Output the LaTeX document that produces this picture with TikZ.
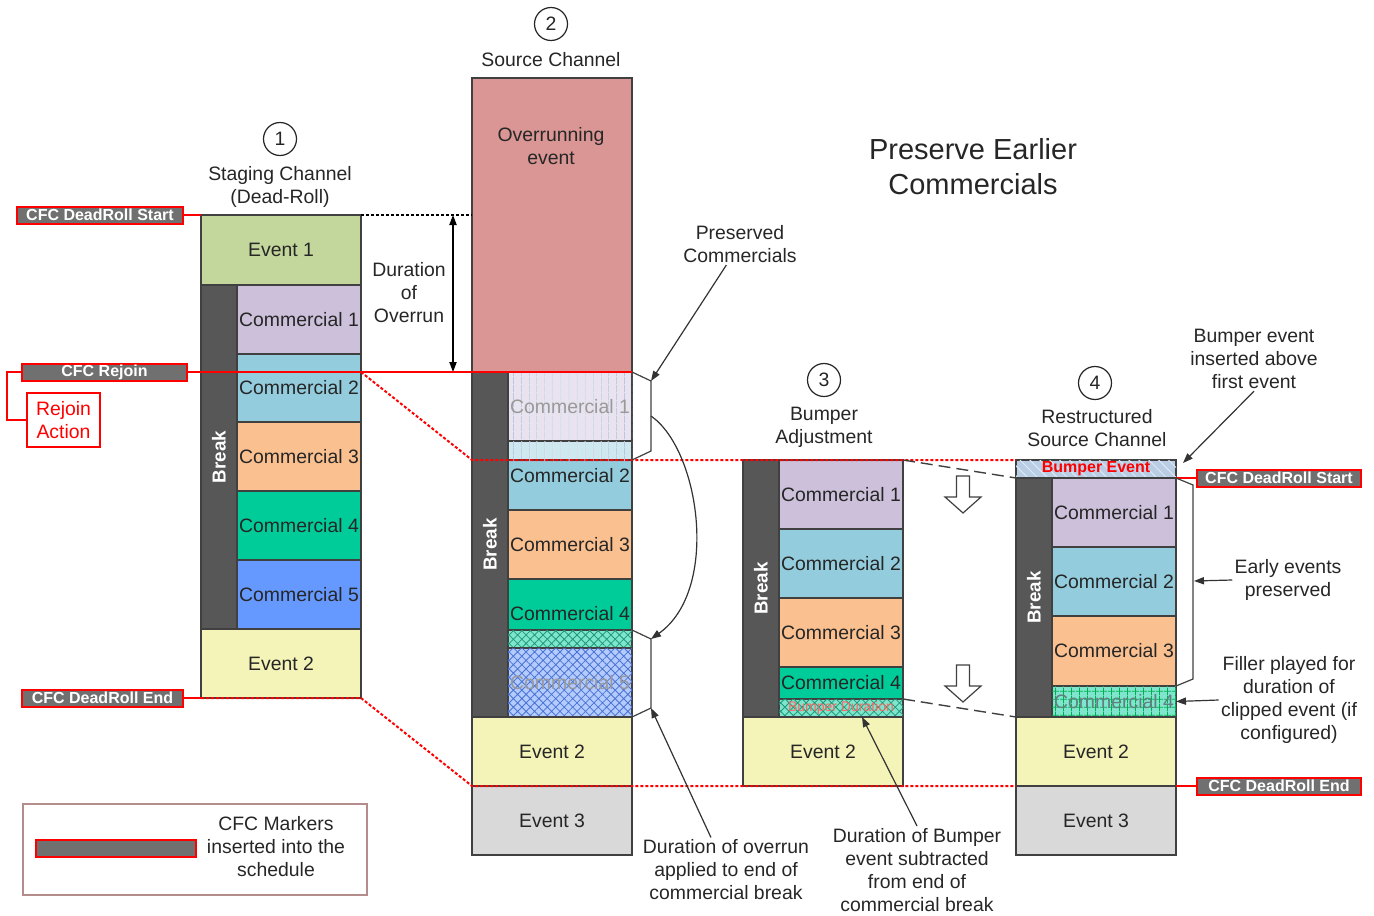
\documentclass[tikz,border=0pt]{standalone}
\usepackage{fontspec}
\setmainfont{Liberation Sans}
\usepackage{tikz}
\usetikzlibrary{positioning, arrows.meta, patterns.meta}

\definecolor{ink}{HTML}{262626}
\definecolor{edge}{HTML}{404040}
\definecolor{evgreen}{HTML}{C3D69B}
\definecolor{evyellow}{HTML}{F4F4B8}
\definecolor{evgrey}{HTML}{D9D9D9}
\definecolor{overrun}{HTML}{D99694}
\definecolor{com1}{HTML}{CCC0DA}
\definecolor{com2}{HTML}{93CDDD}
\definecolor{com3}{HTML}{FAC090}
\definecolor{com4}{HTML}{00CC99}
\definecolor{com5}{HTML}{6699FF}
\definecolor{brkgray}{HTML}{575757}
\definecolor{cfcgray}{HTML}{707070}
\definecolor{legendbr}{HTML}{B48C8C}

\tikzset{
    blk/.style={rectangle, draw=edge, line width=0.6pt, inner sep=0pt, outer sep=0pt, text=ink},
    evbox/.style={blk, minimum width=80pt},
    combox/.style={blk, minimum width=62pt},
    brkbar/.style={blk, fill=brkgray, minimum width=18pt},
    brktxt/.style={rotate=90, text=white, font=\fontsize{9.4}{11}\selectfont\bfseries},
    hpx/.style={minimum height=#1*0.5pt},
    ghostc1/.style={fill=HTML-ghost1, text=gray!80, postaction={pattern={Lines[angle=90,distance=4pt,line width=0.4pt]}, pattern color=ghostline}},
    ghostc2/.style={fill=HTML-ghost2, postaction={pattern={Lines[angle=90,distance=4pt,line width=0.4pt]}, pattern color=ghostline}},
    xteal/.style={fill=tealpale, postaction={pattern={Hatch[angle=45,distance=3pt,line width=0.4pt]}, pattern color=tealline}},
    xblue/.style={fill=bluepale, text=gray!80, postaction={pattern={Hatch[angle=45,distance=3pt,line width=0.4pt]}, pattern color=blueline}},
    gridgreen/.style={fill=tealpale, text=gray!75!teal, postaction={pattern={Hatch[angle=0,distance=4pt,line width=0.4pt]}, pattern color=gridline}},
    bumpev/.style={fill=bumpfill, text=red, font=\fontsize{8}{9}\selectfont\bfseries, postaction={pattern={Lines[angle=-45,distance=3.5pt,line width=0.5pt]}, pattern color=white!55!bumpfill}},
    cfc/.style={rectangle, draw=red, line width=1pt, fill=cfcgray, text=white, inner sep=0pt, minimum height=8.5pt, font=\fontsize{8}{9}\selectfont\bfseries},
    num/.style={circle, draw=ink, line width=0.6pt, minimum size=16.5pt, inner sep=0pt, text=ink},
    hdr/.style={align=center, text=ink, inner sep=1pt},
    redline/.style={draw=red, line width=1pt},
    reddot/.style={draw=red, line width=1pt, dash pattern=on 1.5pt off 1pt},
    linkdash/.style={draw=edge, line width=0.7pt, dash pattern=on 6pt off 3pt},
    brace/.style={draw=edge, line width=0.6pt},
    ptr/.style={draw=black!80, line width=0.6pt, ->},
    downblock/.pic={\draw[draw=edge, fill=white, line width=0.6pt] (-6.5,0) -- (6.5,0) -- (6.5,21) -- (18,21) -- (0,37) -- (-18,21) -- (-6.5,21) -- cycle;},
}
\colorlet{HTML-ghost1}{com1!45!white}
\colorlet{HTML-ghost2}{com2!45!white}
\definecolor{ghostline}{HTML}{B3BFDD}
\definecolor{tealpale}{HTML}{7FE5CC}
\definecolor{tealline}{HTML}{1C9A7A}
\definecolor{bluepale}{HTML}{B3CBFF}
\definecolor{blueline}{HTML}{4A72D0}
\definecolor{gridline}{HTML}{00B050}
\definecolor{bumpfill}{HTML}{B9CDE5}

\begin{document}
\begin{tikzpicture}[x=0.5pt, y=-0.5pt, font=\fontsize{9.7}{11.5}\selectfont, >={Triangle[length=5pt,width=3.6pt]}]
    \useasboundingbox (0,0) rectangle (1374,915);

    \node [hdr, font=\fontsize{14.5}{17.5}\selectfont] (title) at (973,167) {Preserve Earlier\\Commercials};

    % staging channel
    \node [num] (n1) at (280,139) {1};
    \node [hdr] (h1) at (280,187) {Staging Channel\\(Dead-Roll)};
    \node [evbox, fill=evgreen, hpx=70, anchor=north west] (s-e1) at (201,215) {Event 1};
    \node [brkbar, hpx=344, anchor=north west] (s-brk) at (s-e1.south west) {};
    \node [brktxt] (s-brkt) at (s-brk) {Break};
    \node [combox, fill=com1, hpx=69, anchor=north west] (s-c1) at (s-brk.north east) {Commercial 1};
    \node [combox, fill=com2, hpx=68, below=0pt of s-c1] (s-c2) {Commercial 2};
    \node [combox, fill=com3, hpx=69, below=0pt of s-c2] (s-c3) {Commercial 3};
    \node [combox, fill=com4, hpx=69, below=0pt of s-c3] (s-c4) {Commercial 4};
    \node [combox, fill=com5, hpx=69, below=0pt of s-c4] (s-c5) {Commercial 5};
    \node [evbox, fill=evyellow, hpx=69, anchor=north west] (s-e2) at (s-brk.south west) {Event 2};

    % source channel
    \node [num] (n2) at (551,24) {2};
    \node [hdr] (h2) at (551,60) {Source Channel};
    \node [evbox, fill=overrun, hpx=294, anchor=north west] (o-ov) at (472,78) {};
    \node [hdr] (o-ovt) at (551,146) {Overrunning\\event};
    \node [brkbar, hpx=345, anchor=north west] (o-brk) at (o-ov.south west) {};
    \node [brktxt] (o-brkt) at (o-brk) {Break};
    \node [combox, ghostc1, hpx=69, anchor=north west] (o-c1) at (o-brk.north east) {Commercial 1};
    \node [combox, fill=com2, hpx=69, below=0pt of o-c1] (o-c2) {Commercial 2};
    \node [combox, ghostc2, hpx=19, anchor=north] (o-g2) at (o-c2.north) {};
    \node [combox, fill=com3, hpx=69, below=0pt of o-c2] (o-c3) {Commercial 3};
    \node [combox, fill=com4, hpx=69, below=0pt of o-c3] (o-c4) {Commercial 4};
    \node [combox, xteal, hpx=18, anchor=south] (o-x4) at (o-c4.south) {};
    \node [combox, xblue, hpx=69, below=0pt of o-c4] (o-c5) {Commercial 5};
    \node [evbox, fill=evyellow, hpx=69, anchor=north west] (o-e2) at (o-brk.south west) {Event 2};
    \node [evbox, fill=evgrey, hpx=69, below=0pt of o-e2] (o-e3) {Event 3};

    % bumper adjustment
    \node [num] (n3) at (824,380) {3};
    \node [hdr] (h3) at (824,427) {Bumper\\Adjustment};
    \node [brkbar, hpx=257, anchor=north west] (b-brk) at (743,460) {};
    \node [brktxt] (b-brkt) at (b-brk) {Break};
    \node [combox, fill=com1, hpx=69, anchor=north west] (b-c1) at (b-brk.north east) {Commercial 1};
    \node [combox, fill=com2, hpx=69, below=0pt of b-c1] (b-c2) {Commercial 2};
    \node [combox, fill=com3, hpx=69, below=0pt of b-c2] (b-c3) {Commercial 3};
    \node [combox, fill=com4, hpx=32, below=0pt of b-c3] (b-c4) {Commercial 4};
    \node [combox, xteal, hpx=18, below=0pt of b-c4, text=red!60, font=\fontsize{7}{8}\selectfont] (b-bd) {Bumper Duration};
    \node [evbox, fill=evyellow, hpx=69, anchor=north west] (b-e2) at (b-brk.south west) {Event 2};
    \pic at (963,476) {downblock};
    \pic at (963,665) {downblock};

    % restructured source channel
    \node [num] (n4) at (1095,383) {4};
    \node [hdr] (h4) at (1097,428) {Restructured\\Source Channel};
    \node [evbox, bumpev, hpx=18, anchor=north west] (r-bmp) at (1016,460) {Bumper Event};
    \node [brkbar, hpx=239, anchor=north west] (r-brk) at (r-bmp.south west) {};
    \node [brktxt] (r-brkt) at (r-brk) {Break};
    \node [combox, fill=com1, hpx=69, anchor=north west] (r-c1) at (r-brk.north east) {Commercial 1};
    \node [combox, fill=com2, hpx=69, below=0pt of r-c1] (r-c2) {Commercial 2};
    \node [combox, fill=com3, hpx=70, below=0pt of r-c2] (r-c3) {Commercial 3};
    \node [combox, gridgreen, hpx=31, below=0pt of r-c3] (r-c4) {Commercial 4};
    \node [evbox, fill=evyellow, hpx=69, anchor=north west] (r-e2) at (r-brk.south west) {Event 2};
    \node [evbox, fill=evgrey, hpx=69, below=0pt of r-e2] (r-e3) {Event 3};

    % markers
    \node [cfc, minimum width=83pt] (m-ds) at (100,215) {CFC DeadRoll Start};
    \node [cfc, minimum width=82.5pt] (m-rj) at (104.5,372) {CFC Rejoin};
    \node [cfc, minimum width=80.5pt] (m-de) at (102.5,698) {CFC DeadRoll End};
    \node [cfc, minimum width=82pt] (m-ds2) at (1279,478) {CFC DeadRoll Start};
    \node [cfc, minimum width=82pt] (m-de2) at (1279,786) {CFC DeadRoll End};
    \node [rectangle, draw=red, line width=0.8pt, text=red, align=center, inner sep=0pt, minimum width=36.5pt, minimum height=27pt] (rja) at (63.5,420) {Rejoin\\Action};

    % legend
    \node [draw=legendbr, line width=0.8pt, minimum width=172pt, minimum height=45.5pt, anchor=north west] (leg) at (22,803) {};
    \node [cfc, minimum width=80pt] (leg-m) at (116,848.5) {};
    \node [hdr] (leg-t) at (276,847) {CFC Markers\\inserted into the\\schedule};

    % notes
    \node [hdr] (dur) at (409,293) {Duration\\of\\Overrun};
    \node [hdr] (pres) at (740,244) {Preserved\\Commercials};
    \node [hdr] (dover) at (726,870) {Duration of overrun\\applied to end of\\commercial break};
    \node [hdr] (dbump) at (917,870) {Duration of Bumper\\event subtracted\\from end of\\commercial break};
    \node [hdr] (bins) at (1254,359) {Bumper event\\inserted above\\first event};
    \node [hdr] (early) at (1288,580) {Early events\\preserved};
    \node [hdr] (filler) at (1289,700) {Filler played for\\duration of\\clipped event (if\\configured)};

    \coordinate (d-top) at (453,215);
    \coordinate (d-bot) at (453,372);
    \coordinate (o-b1a) at (651,381);
    \coordinate (o-bm) at (651,416);
    \coordinate (o-b1b) at (651,451);
    \coordinate (o-b2a) at (651,639);
    \coordinate (o-b2b) at (651,708);
    \coordinate (r-b1) at (1193,485);
    \coordinate (r-bm) at (1194,581);
    \coordinate (r-b2) at (1193,679);
    \coordinate (r-bt) at (1183,463);
    \coordinate (b-tip) at (862,717);

    \draw [redline] (m-ds) -- (s-e1.north west);
    \draw [draw=black, line width=0.8pt, dash pattern=on 1.5pt off 1pt] (s-e1.north east) -- (s-e1.north east -| o-ov.west);
    \draw [<->, line width=0.7pt] (d-top) -- (d-bot);
    \draw [redline] (m-rj) -- (o-c1.north east);
    \draw [draw=red, line width=0.7pt] (m-rj.west) -- ++(-14,0) |- (rja.west);
    \draw [reddot] (s-c1.east |- m-rj) -- (o-brk.west |- b-c1.north) -- (r-bmp.north west);
    \draw [redline] (m-de) -- (s-e2.south west);
    \draw [reddot] (s-e2.south west) -- (s-e2.south east) -- (o-e2.south west) -- (r-e2.south west);
    \draw [redline] (r-e2.south east) -- (m-de2);
    \draw [redline] (r-c1.north east) -- (m-ds2);

    \draw [linkdash] (b-c1.north east) -- (r-brk.north west);
    \draw [linkdash] (b-c4.south east) -- (r-brk.south west);

    \draw [brace] (o-c1.north east) -- (o-b1a) -- (o-b1b) -- (o-g2.south east);
    \draw [brace] (o-x4.north east) -- (o-b2a) -- (o-b2b) -- (o-c5.south east);
    \draw [brace] (r-c1.north east) -- (r-b1) -- (r-b2) -- (r-c3.south east);

    \draw [ptr] (pres) -- (o-b1a);
    \draw [ptr] (o-bm) .. controls (700,450) and (720,590) .. (o-b2a);
    \draw [ptr] (dover) -- (o-b2b);
    \draw [ptr] (dbump.north) -- (b-tip);
    \draw [ptr] (bins.south) -- (r-bt);
    \draw [ptr] (early.west) -- (r-bm);
    \draw [ptr] (filler.west) -- (r-c4.east);
\end{tikzpicture}
\end{document}
